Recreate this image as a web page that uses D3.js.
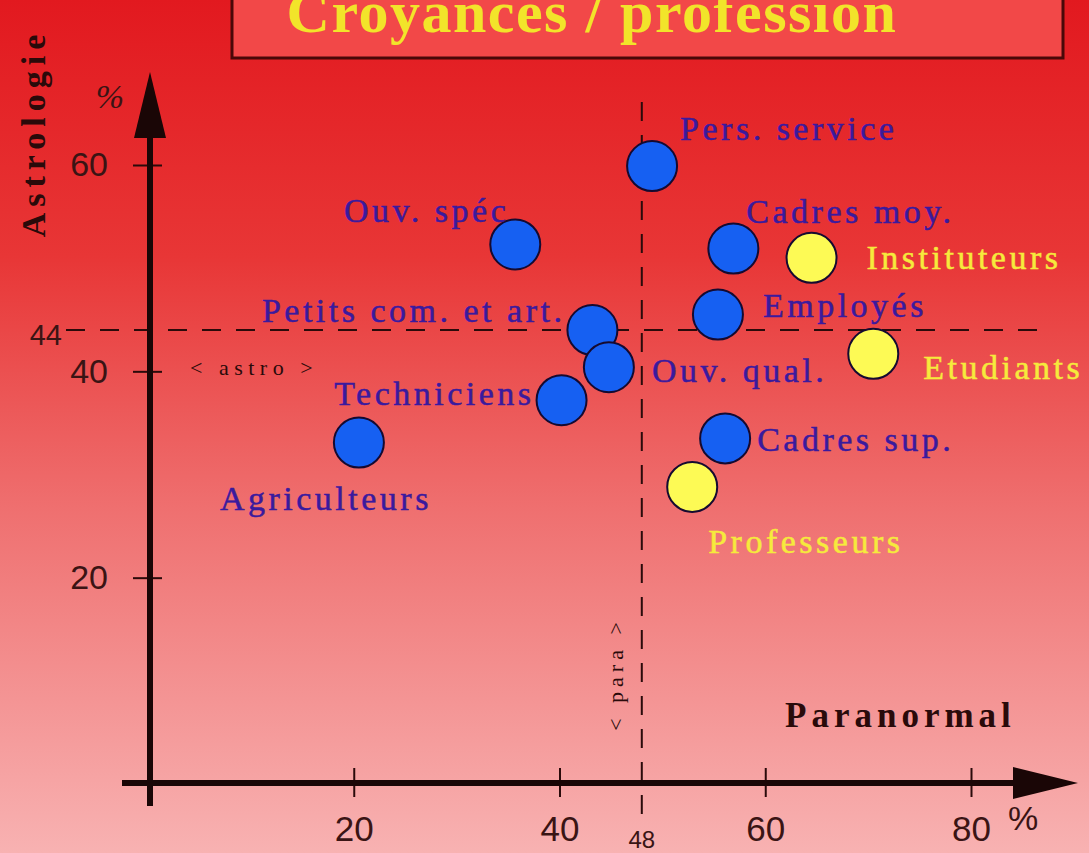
<!DOCTYPE html>
<html>
<head>
<meta charset="utf-8">
<script src="https://cdn.jsdelivr.net/npm/d3@7/dist/d3.min.js"></script>
<style>
  body { margin: 0; }
  svg { display: block; }
</style>
</head>
<body>
<div id="viz"></div>
<script>
// data (% paranormal belief, % astrology belief)
var categories = ["Pers. service", "Ouv. spéc", "Cadres moy.", "Instituteurs", "Petits com. et art.",
                  "Employés", "Ouv. qual.", "Etudiants", "Techniciens", "Agriculteurs", "Cadres sup.", "Professeurs"];
var paranormal = [49.0, 35.7, 56.9, 64.5, 43.2, 55.4, 44.8, 70.5, 40.2, 20.5, 56.1, 52.9];
var astrologie = [59.9, 52.3, 51.9, 51.0, 44.0, 45.5, 40.4, 41.7, 37.2, 33.1, 33.5, 28.8];
var groups = ["autre", "autre", "autre", "enseignement", "autre",
              "autre", "autre", "enseignement", "autre", "autre", "autre", "enseignement"];
var xTicks = [20, 40, 60, 80];
var yTicks = [20, 40, 60];
var meanPara = 48;
var meanAstro = 44;

// label placement relative to each bubble: [dx, dy, anchor]
var labelPlace = [
  [28, -26, "start"], [-6, -22, "end"], [13, -26, "start"], [55, 11, "start"], [-27, -8, "end"],
  [45, 2, "start"], [43, 15, "start"], [50, 25, "start"], [-27, 5, "end"], [-33, 67, "middle"],
  [32, 13, "start"], [16, 66, "start"]
];

var width = 1089, height = 853;

var x = d3.scaleLinear().domain([0, 80]).range([148, 971]);
var y = d3.scaleLinear().domain([0, 60]).range([784, 165]);

var fill = d3.scaleOrdinal().domain(["autre", "enseignement"]).range(["#1660f2", "#fdfa55"]);
var textColor = d3.scaleOrdinal().domain(["autre", "enseignement"]).range(["#3a1a9e", "#f6ea3c"]);

var svg = d3.select("#viz").append("svg")
    .attr("width", width)
    .attr("height", height);

// background
var grad = svg.append("defs").append("linearGradient")
    .attr("id", "bg").attr("x1", 0).attr("y1", 0).attr("x2", 0).attr("y2", 1);
grad.append("stop").attr("offset", "0%").attr("stop-color", "#e2191f");
grad.append("stop").attr("offset", "30%").attr("stop-color", "#e83636");
grad.append("stop").attr("offset", "60%").attr("stop-color", "#ef7070");
grad.append("stop").attr("offset", "100%").attr("stop-color", "#f8b2b2");

svg.append("rect").attr("width", width).attr("height", height).attr("fill", "url(#bg)");

// title box
svg.append("rect")
    .attr("x", 232).attr("y", -10).attr("width", 831).attr("height", 68)
    .attr("fill", "#f24848").attr("stroke", "#4a0808").attr("stroke-width", 3);

svg.append("text")
    .attr("x", 592).attr("y", 32)
    .attr("text-anchor", "middle")
    .style("font-family", "'Liberation Serif', serif")
    .style("font-weight", "bold")
    .style("font-size", "60px")
    .style("letter-spacing", "1.5px")
    .attr("fill", "#f2e42a")
    .text("Croyances / profession");

var ink = "#2a0a0a";

// mean lines
svg.append("line")
    .attr("x1", 66).attr("x2", 1040)
    .attr("y1", y(meanAstro)).attr("y2", y(meanAstro))
    .attr("stroke", ink).attr("stroke-width", 2).attr("stroke-dasharray", "19,15");

svg.append("line")
    .attr("x1", x(meanPara)).attr("x2", x(meanPara))
    .attr("y1", 102).attr("y2", 826)
    .attr("stroke", ink).attr("stroke-width", 2).attr("stroke-dasharray", "19,14");

// axes with d3 ticks
var xAxis = svg.append("g")
    .attr("transform", "translate(0," + y(0) + ")")
    .call(d3.axisBottom(x).tickValues(xTicks).tickSize(14).tickPadding(18));
xAxis.select(".domain").remove();
xAxis.selectAll(".tick line").attr("y1", -16).attr("y2", 13).attr("stroke", ink).attr("stroke-width", 2);
xAxis.selectAll(".tick text")
    .attr("fill", "#3a1414")
    .style("font-family", "'Liberation Sans', Arial, sans-serif")
    .style("font-size", "35px");

var yAxis = svg.append("g")
    .attr("transform", "translate(" + x(0) + ",0)")
    .call(d3.axisLeft(y).tickValues(yTicks).tickSize(14).tickPadding(26));
yAxis.select(".domain").remove();
yAxis.selectAll(".tick line").attr("x1", -15).attr("x2", 14).attr("stroke", ink).attr("stroke-width", 2);
yAxis.selectAll(".tick text")
    .attr("fill", "#3a1414")
    .style("font-family", "'Liberation Sans', Arial, sans-serif")
    .style("font-size", "34px");

// mean tick labels
svg.append("text")
    .attr("x", x(meanPara)).attr("y", 848)
    .attr("text-anchor", "middle")
    .attr("fill", "#3a1414")
    .style("font-family", "'Liberation Sans', Arial, sans-serif")
    .style("font-size", "24px")
    .text(meanPara);

svg.append("text")
    .attr("x", 62).attr("y", y(meanAstro) + 5)
    .attr("text-anchor", "end")
    .attr("dy", "0.35em")
    .attr("fill", "#3a1414")
    .style("font-family", "'Liberation Sans', Arial, sans-serif")
    .style("font-size", "29px")
    .text(meanAstro);

// main axis lines + arrows
var x0 = x(0) + 2, y0 = y(0) - 1;
svg.append("line")
    .attr("x1", x0).attr("x2", x0).attr("y1", 806).attr("y2", 130)
    .attr("stroke", "#1a0606").attr("stroke-width", 6);
svg.append("line")
    .attr("x1", 122).attr("x2", 1020).attr("y1", y0).attr("y2", y0)
    .attr("stroke", "#1a0606").attr("stroke-width", 6);

svg.append("path")
    .attr("d", "M" + x0 + ",72 L" + (x0 + 16) + ",138 L" + (x0 - 16) + ",138 Z")
    .attr("fill", "#1a0606");
svg.append("path")
    .attr("d", "M1078," + y0 + " L1013," + (y0 - 16) + " L1013," + (y0 + 16) + " Z")
    .attr("fill", "#1a0606");

// percent signs and axis titles
svg.append("text")
    .attr("x", 110).attr("y", 108)
    .attr("text-anchor", "middle")
    .attr("fill", "#3a1414")
    .style("font-family", "'Liberation Serif', serif")
    .style("font-style", "italic")
    .style("font-size", "34px")
    .text("%");

svg.append("text")
    .attr("x", 1023).attr("y", 830)
    .attr("text-anchor", "middle")
    .attr("fill", "#3a1414")
    .style("font-family", "'Liberation Sans', Arial, sans-serif")
    .style("font-size", "34px")
    .text("%");

svg.append("text")
    .attr("transform", "translate(33,133) rotate(-90)")
    .attr("text-anchor", "middle")
    .attr("dominant-baseline", "central")
    .attr("fill", ink)
    .style("font-family", "'Liberation Serif', serif")
    .style("font-weight", "bold")
    .style("font-size", "34px")
    .style("letter-spacing", "6px")
    .text("Astrologie");

svg.append("text")
    .attr("x", 785).attr("y", 727)
    .attr("fill", ink)
    .style("font-family", "'Liberation Serif', serif")
    .style("font-weight", "bold")
    .style("font-size", "35px")
    .style("letter-spacing", "5px")
    .text("Paranormal");

svg.append("text")
    .attr("x", 190).attr("y", 375)
    .attr("fill", ink)
    .style("font-family", "'Liberation Serif', serif")
    .style("font-size", "22px")
    .style("letter-spacing", "5.5px")
    .text("< astro >");

svg.append("text")
    .attr("transform", "translate(615,674) rotate(-90)")
    .attr("text-anchor", "middle")
    .attr("dominant-baseline", "central")
    .attr("fill", ink)
    .style("font-family", "'Liberation Serif', serif")
    .style("font-size", "22px")
    .style("letter-spacing", "5px")
    .text("< para >");

// bubbles
var points = categories.map(function(c, i) {
  return { name: c, para: paranormal[i], astro: astrologie[i], group: groups[i], place: labelPlace[i] };
});

svg.append("g").selectAll("circle")
  .data(points)
  .join("circle")
    .attr("cx", d => x(d.para))
    .attr("cy", d => y(d.astro))
    .attr("r", 25)
    .attr("fill", d => fill(d.group))
    .attr("stroke", "#150a30")
    .attr("stroke-width", 2);

svg.append("g").selectAll("text")
  .data(points)
  .join("text")
    .attr("x", d => x(d.para) + d.place[0])
    .attr("y", d => y(d.astro) + d.place[1])
    .attr("text-anchor", d => d.place[2])
    .attr("fill", d => textColor(d.group))
    .attr("stroke", d => textColor(d.group))
    .attr("stroke-width", 0.5)
    .style("font-family", "'Liberation Serif', serif")
    .style("font-size", "34px")
    .style("letter-spacing", "3.5px")
    .text(d => d.name);
</script>
</body>
</html>
